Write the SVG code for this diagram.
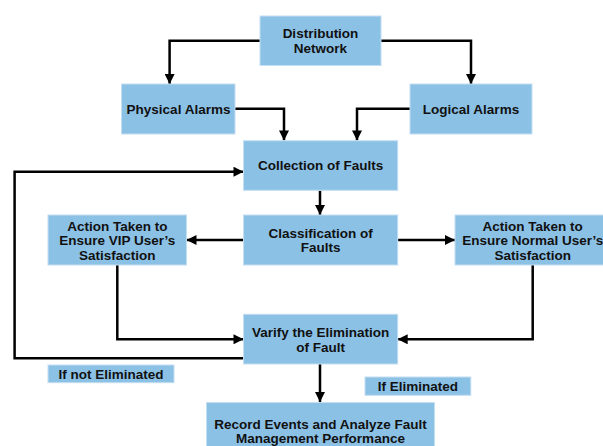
<svg xmlns="http://www.w3.org/2000/svg" width="603" height="446" viewBox="0 0 603 446">
<style>
.box{fill:#8cc1e6;stroke:#c4def2;stroke-width:1}
.t{font-family:"Liberation Sans",Arial,sans-serif;font-weight:bold;font-size:13.5px;fill:#111;text-anchor:middle}
.c{fill:none;stroke:#000;stroke-width:2.5;marker-end:url(#ah)}
</style>
<defs>
<marker id="ah" viewBox="0 0 10 10" refX="10" refY="5" markerWidth="4.2" markerHeight="4" markerUnits="strokeWidth" orient="auto">
<path d="M0,0 L10,5 L0,10 z" fill="#000"/>
</marker>
</defs>
<rect width="603" height="446" fill="#fff"/>
<g id="connectors">
<path class="c" d="M260,40.7 H169.6 V84"/>
<path class="c" d="M381,40.7 H471 V84"/>
<path class="c" d="M235,108.7 H284 V140.5"/>
<path class="c" d="M410,108.7 H357 V140.5"/>
<path class="c" d="M320,190.5 V215"/>
<path class="c" d="M243.5,240 H186.5"/>
<path class="c" d="M397.7,240 H455"/>
<path class="c" d="M117.3,265 V339.3 H243.5"/>
<path class="c" d="M532.7,265 V339.3 H397.7"/>
<path class="c" d="M243.5,358.3 H14.6 V171.7 H243.5"/>
<path class="c" d="M320,364 V402"/>
</g>
<g id="distribution-network">
<rect class="box" x="260" y="16" width="121" height="49.5"/>
<text class="t" x="320.5" y="38">Distribution</text>
<text class="t" x="320.5" y="52.5">Network</text>
</g>
<g id="physical-alarms">
<rect class="box" x="121.5" y="84" width="113.5" height="50"/>
<text class="t" x="178.5" y="113.5">Physical Alarms</text>
</g>
<g id="logical-alarms">
<rect class="box" x="410" y="84" width="122" height="50"/>
<text class="t" x="471" y="113.5">Logical Alarms</text>
</g>
<g id="collection-of-faults">
<rect class="box" x="243.5" y="140.7" width="154.2" height="49.6"/>
<text class="t" x="320.6" y="169.5">Collection of Faults</text>
</g>
<g id="classification-of-faults">
<rect class="box" x="243.5" y="215" width="154.2" height="50"/>
<text class="t" x="320.6" y="237.5">Classification of</text>
<text class="t" x="320.6" y="252">Faults</text>
</g>
<g id="vip-action">
<rect class="box" x="48" y="215" width="138.5" height="50"/>
<text class="t" x="117.3" y="230.5">Action Taken to</text>
<text class="t" x="117.3" y="245">Ensure VIP User’s</text>
<text class="t" x="117.3" y="260">Satisfaction</text>
</g>
<g id="normal-action">
<rect class="box" x="455" y="215" width="156" height="50"/>
<text class="t" x="532.7" y="230.5">Action Taken to</text>
<text class="t" x="532.7" y="245">Ensure Normal User’s</text>
<text class="t" x="532.7" y="260">Satisfaction</text>
</g>
<g id="verify-elimination">
<rect class="box" x="243.5" y="314.3" width="154.2" height="49.7"/>
<text class="t" x="320.6" y="337">Varify the Elimination</text>
<text class="t" x="320.6" y="351.5">of Fault</text>
</g>
<g id="if-not-eliminated">
<rect class="box" x="48" y="365" width="126" height="17.7"/>
<text class="t" x="111" y="378.5">If not Eliminated</text>
</g>
<g id="if-eliminated">
<rect class="box" x="365" y="377" width="105.8" height="18.3"/>
<text class="t" x="417.9" y="391">If Eliminated</text>
</g>
<g id="record-events">
<rect class="box" x="206.5" y="402.5" width="228" height="50"/>
<text class="t" x="320.5" y="428.5">Record Events and Analyze Fault</text>
<text class="t" x="320.5" y="442.5">Management Performance</text>
</g>
</svg>
